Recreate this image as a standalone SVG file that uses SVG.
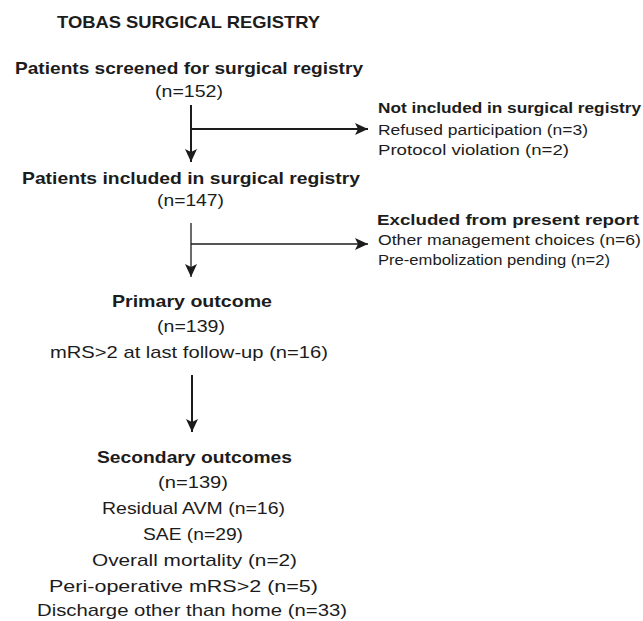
<svg xmlns="http://www.w3.org/2000/svg" width="643" height="621" viewBox="0 0 643 621">
<style>
text{font-family:"Liberation Sans",Arial,sans-serif;fill:#1c1c1c;}
.b{font-weight:bold;}
.m{font-size:17px;}
.s{font-size:14px;}
.ln{stroke:#1c1c1c;fill:none;}
.thick{stroke-width:2;}
.thin{stroke-width:1.3;}
</style>
<defs>
<marker id="ah" markerUnits="userSpaceOnUse" markerWidth="14" markerHeight="14" viewBox="0 0 14 14" refX="13" refY="7" orient="auto">
<path d="M0,1 L13,7 L0,13 L3,7 Z" fill="#1c1c1c"/>
</marker>
</defs>
<rect width="643" height="621" fill="#fff"/>
<g id="title"><text class="b m" x="57" y="28" textLength="263" lengthAdjust="spacingAndGlyphs">TOBAS SURGICAL REGISTRY</text></g>
<g id="screened">
<text class="b m" x="15" y="74" textLength="348" lengthAdjust="spacingAndGlyphs">Patients screened for surgical registry</text>
<text class="m" x="155" y="97" textLength="68" lengthAdjust="spacingAndGlyphs">(n=152)</text>
</g>
<g id="notincluded">
<text class="b s" x="378" y="113" textLength="263" lengthAdjust="spacingAndGlyphs">Not included in surgical registry</text>
<text class="s" x="378" y="135" textLength="210" lengthAdjust="spacingAndGlyphs">Refused participation (n=3)</text>
<text class="s" x="378" y="155" textLength="191" lengthAdjust="spacingAndGlyphs">Protocol violation (n=2)</text>
</g>
<g id="included">
<text class="b m" x="22" y="184" textLength="338" lengthAdjust="spacingAndGlyphs">Patients included in surgical registry</text>
<text class="m" x="157" y="206" textLength="67" lengthAdjust="spacingAndGlyphs">(n=147)</text>
</g>
<g id="excluded">
<text class="b s" x="377" y="225" textLength="262" lengthAdjust="spacingAndGlyphs">Excluded from present report</text>
<text class="s" x="378" y="245" textLength="263" lengthAdjust="spacingAndGlyphs">Other management choices (n=6)</text>
<text class="s" x="378" y="265" textLength="232" lengthAdjust="spacingAndGlyphs">Pre-embolization pending (n=2)</text>
</g>
<g id="primary">
<text class="b m" x="112" y="307" textLength="160" lengthAdjust="spacingAndGlyphs">Primary outcome</text>
<text class="m" x="157" y="332" textLength="68" lengthAdjust="spacingAndGlyphs">(n=139)</text>
<text class="m" x="50" y="358" textLength="278" lengthAdjust="spacingAndGlyphs">mRS&gt;2 at last follow-up (n=16)</text>
</g>
<g id="secondary">
<text class="b m" x="97" y="463" textLength="195" lengthAdjust="spacingAndGlyphs">Secondary outcomes</text>
<text class="m" x="158" y="488" textLength="70" lengthAdjust="spacingAndGlyphs">(n=139)</text>
<text class="m" x="102" y="514" textLength="183" lengthAdjust="spacingAndGlyphs">Residual AVM (n=16)</text>
<text class="m" x="143" y="540" textLength="100" lengthAdjust="spacingAndGlyphs">SAE (n=29)</text>
<text class="m" x="92" y="566" textLength="205" lengthAdjust="spacingAndGlyphs">Overall mortality (n=2)</text>
<text class="m" x="49" y="592" textLength="269" lengthAdjust="spacingAndGlyphs">Peri-operative mRS&gt;2 (n=5)</text>
<text class="m" x="37" y="616" textLength="310" lengthAdjust="spacingAndGlyphs">Discharge other than home (n=33)</text>
</g>
<g id="connectors">
<line class="ln thick" x1="191" y1="105" x2="191" y2="162" marker-end="url(#ah)"/>
<line class="ln thick" x1="191" y1="129" x2="368" y2="129" marker-end="url(#ah)"/>
<line class="ln thin" x1="191" y1="223" x2="191" y2="277" marker-end="url(#ah)"/>
<line class="ln thin" x1="191" y1="244" x2="368" y2="244" marker-end="url(#ah)"/>
<line class="ln thick" x1="192" y1="375" x2="192" y2="432" marker-end="url(#ah)"/>
</g>
</svg>
